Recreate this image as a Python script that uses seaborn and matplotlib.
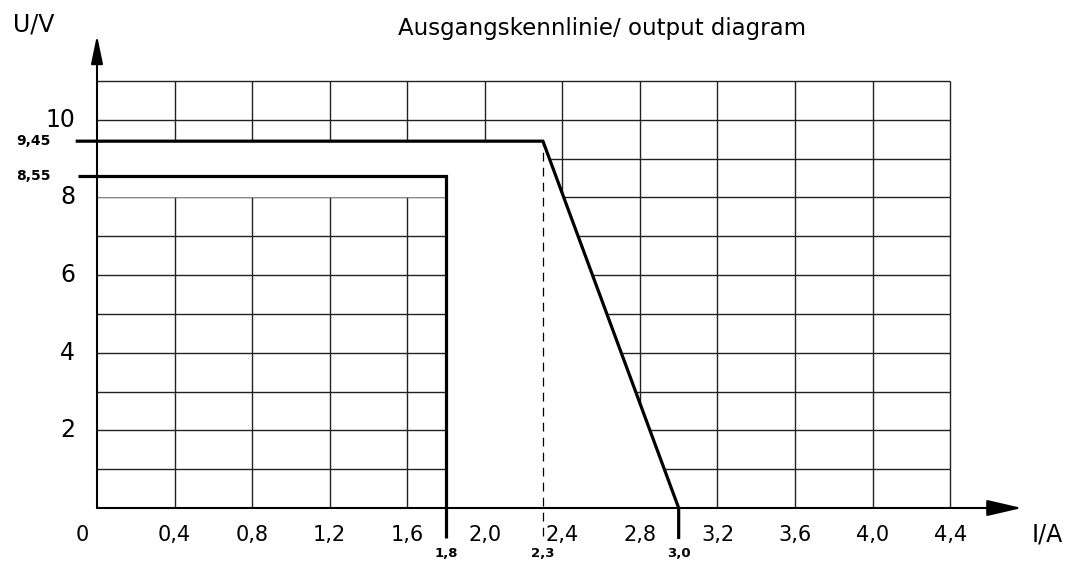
import matplotlib
matplotlib.use("Agg")
import matplotlib.pyplot as plt
import numpy as np
import pandas as pd
import seaborn as sns

# output characteristic of the power supply (current in A, voltage in V)
i_curve_a = [0.0, 2.3, 3.0]
u_curve_a = [9.45, 9.45, 0.0]
i_curve_b = [0.0, 1.8, 1.8]
u_curve_b = [8.55, 8.55, 0.0]

x_ticks = [0.4, 0.8, 1.2, 1.6, 2.0, 2.4, 2.8, 3.2, 3.6, 4.0, 4.4]
x_tick_labels = ["0,4", "0,8", "1,2", "1,6", "2,0", "2,4", "2,8", "3,2", "3,6", "4,0", "4,4"]
y_ticks = [2, 4, 6, 8, 10]
y_grid = list(range(1, 12))
marked_currents = [1.8, 2.3, 3.0]
marked_current_labels = ["1,8", "2,3", "3,0"]
marked_voltages = [9.45, 8.55]
marked_voltage_labels = ["9,45", "8,55"]

sns.set_theme(style="white")
plt.rcParams["font.family"] = ["DejaVu Sans"]
plt.rcParams["text.color"] = "black"

fig = plt.figure(figsize=(10.68, 5.63), dpi=100)
ax = fig.add_axes([0, 0, 1, 1])

grid_kw = dict(color="#222222", lw=1.0, zorder=1)
ax.hlines(y_grid, 0, 4.4, **grid_kw)
ax.vlines(x_ticks, 0, 11, **grid_kw)

# blank out the grid inside the characteristic area
ax.fill([0, 0, 2.3, 3.0, 1.8, 1.8], [8.0, 9.45, 9.45, 0.0, 0.0, 8.0],
        color="white", zorder=2, lw=0)

# axes with arrows
ax.annotate("", xy=(4.77, 0), xytext=(0, 0), zorder=5,
            arrowprops=dict(arrowstyle="-|>,head_length=1.08,head_width=0.25",
                            mutation_scale=20, lw=1.5, color="black",
                            shrinkA=0, shrinkB=0))
ax.annotate("", xy=(0, 12.18), xytext=(0, 0), zorder=5,
            arrowprops=dict(arrowstyle="-|>,head_length=0.86,head_width=0.18",
                            mutation_scale=20, lw=1.5, color="black",
                            shrinkA=0, shrinkB=0))

# dashed helper line at the knee current
ax.vlines(2.3, -0.72, 9.45, color="black", lw=0.9, linestyles=(0, (7, 5)), zorder=3)

# characteristic curves, with leads past the axes
df_a = pd.DataFrame({"I": [-0.11] + i_curve_a + [i_curve_a[-1]],
                     "U": [u_curve_a[0]] + u_curve_a + [-0.8]})
df_b = pd.DataFrame({"I": [-0.10] + i_curve_b + [i_curve_b[-1]],
                     "U": [u_curve_b[0]] + u_curve_b + [-0.77]})
for df in (df_a, df_b):
    sns.lineplot(data=df, x="I", y="U", sort=False, estimator=None, ax=ax,
                 color="black", lw=2.3, zorder=4, solid_joinstyle="miter",
                 solid_capstyle="butt", legend=False)
ax.set_xlim(-0.5003, 5.008)
ax.set_ylim(-1.417, 13.087)
ax.axis("off")

# tick labels
for x, lab in zip(x_ticks, x_tick_labels):
    ax.text(x, -0.69, lab, ha="center", va="center", fontsize=15)
ax.text(-0.077, -0.69, "0", ha="center", va="center", fontsize=15)
for y in y_ticks:
    ax.text(-0.113, y, str(y), ha="right", va="center", fontsize=17)

for x, lab in zip(marked_currents, marked_current_labels):
    ax.text(x, -1.17, lab, ha="center", va="center", fontsize=9.5, fontweight="bold")
for y, lab in zip(marked_voltages, marked_voltage_labels):
    ax.text(-0.24, y, lab, ha="right", va="center", fontsize=10, fontweight="bold")

ax.text(-0.325, 12.46, "U/V", ha="center", va="center", fontsize=17)
ax.text(4.9, -0.69, "I/A", ha="center", va="center", fontsize=17)
ax.text(2.605, 12.36, "Ausgangskennlinie/ output diagram", ha="center", va="center",
        fontsize=16.5)

fig.savefig("out.png", dpi=100, facecolor="white")
